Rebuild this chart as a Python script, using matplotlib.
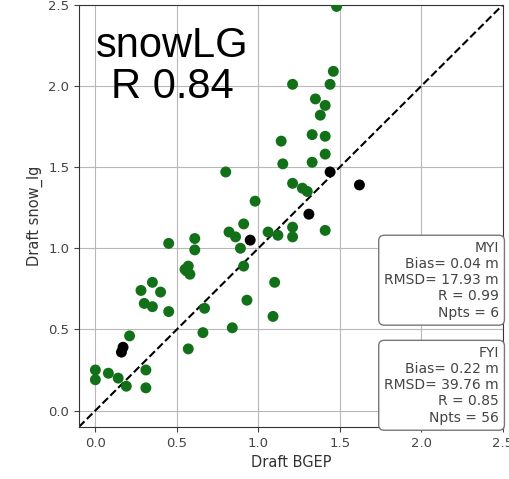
import numpy as np
import matplotlib
matplotlib.use('Agg')
import matplotlib.pyplot as plt

# ____________________________________________________________________
# DATA

# first year ice (green)
fyi_bgep = [0.00, 0.00, 0.08, 0.14, 0.19, 0.21, 0.31, 0.31, 0.28, 0.35,
            0.40, 0.30, 0.35, 0.45, 0.45, 0.57, 0.55, 0.57, 0.58, 0.56,
            0.61, 0.61, 0.67, 0.66, 0.84, 0.93, 0.91, 0.89, 1.10, 1.09,
            0.80, 0.98, 0.91, 0.82, 0.86, 1.06, 1.12, 1.21, 1.21, 1.41,
            1.21, 1.27, 1.30, 1.15, 1.33, 1.41, 1.14, 1.33, 1.41, 1.38,
            1.41, 1.35, 1.21, 1.44, 1.46, 1.48]
fyi_snow = [0.25, 0.19, 0.23, 0.20, 0.15, 0.46, 0.25, 0.14, 0.74, 0.79,
            0.73, 0.66, 0.64, 0.61, 1.03, 0.38, 0.87, 0.89, 0.84, 0.86,
            1.06, 0.99, 0.63, 0.48, 0.51, 0.68, 0.89, 1.00, 0.79, 0.58,
            1.47, 1.29, 1.15, 1.10, 1.07, 1.10, 1.08, 1.13, 1.07, 1.11,
            1.40, 1.37, 1.35, 1.52, 1.53, 1.58, 1.66, 1.70, 1.69, 1.82,
            1.88, 1.92, 2.01, 2.01, 2.09, 2.49]

# multi year ice (black)
myi_bgep = [0.17, 0.16, 0.95, 1.31, 1.44, 1.62]
myi_snow = [0.39, 0.36, 1.05, 1.21, 1.47, 1.39]

myi_stats = ['MYI', 'Bias= 0.04 m', 'RMSD= 17.93 m', 'R = 0.99', 'Npts = 6']
fyi_stats = ['FYI', 'Bias= 0.22 m', 'RMSD= 39.76 m', 'R = 0.85', 'Npts = 56']

ticks = [0.0, 0.5, 1.0, 1.5, 2.0, 2.5]
lims = [-0.1, 2.5]

# ____________________________________________________________________
# PLOT

fig = plt.figure(figsize=(5.10, 4.79), dpi=100)
ax = fig.add_axes([0.155, 0.109, 0.831, 0.881])

ax.grid(True, color='#b8b8b8', linewidth=0.8, zorder=0)
ax.plot(lims, lims, 'k--', linewidth=1.5, zorder=2)
ax.scatter(fyi_bgep, fyi_snow, s=62, color='#127018', edgecolors='none', zorder=3)
ax.scatter(myi_bgep, myi_snow, s=62, color='black', edgecolors='none', zorder=4)

ax.set_xlim(lims)
ax.set_ylim(lims)
ax.set_xticks(ticks)
ax.set_yticks(ticks)
ax.tick_params(labelsize=9.5, colors='#444444')
for sp in ax.spines.values():
    sp.set_color('#333333')

ax.set_xlabel('Draft BGEP', fontsize=10.5, color='#333333')
ax.set_ylabel('Draft snow_lg', fontsize=10.5, color='#333333')

ax.text(0.47, 2.12, 'snowLG\nR 0.84', fontsize=30, family='Liberation Sans',
        ha='center', va='center', linespacing=1.05, zorder=5)

box = dict(boxstyle='round,pad=0.4', facecolor='white', edgecolor='#777777')
ax.text(0.9906, 0.254, '\n'.join(myi_stats), transform=ax.transAxes,
        ha='right', va='bottom', fontsize=10, color='#444444',
        multialignment='right', bbox=box, zorder=6)
ax.text(0.9906, 0.005, '\n'.join(fyi_stats), transform=ax.transAxes,
        ha='right', va='bottom', fontsize=10, color='#444444',
        multialignment='right', bbox=box, zorder=6)

fig.savefig('out.png', dpi=100)
